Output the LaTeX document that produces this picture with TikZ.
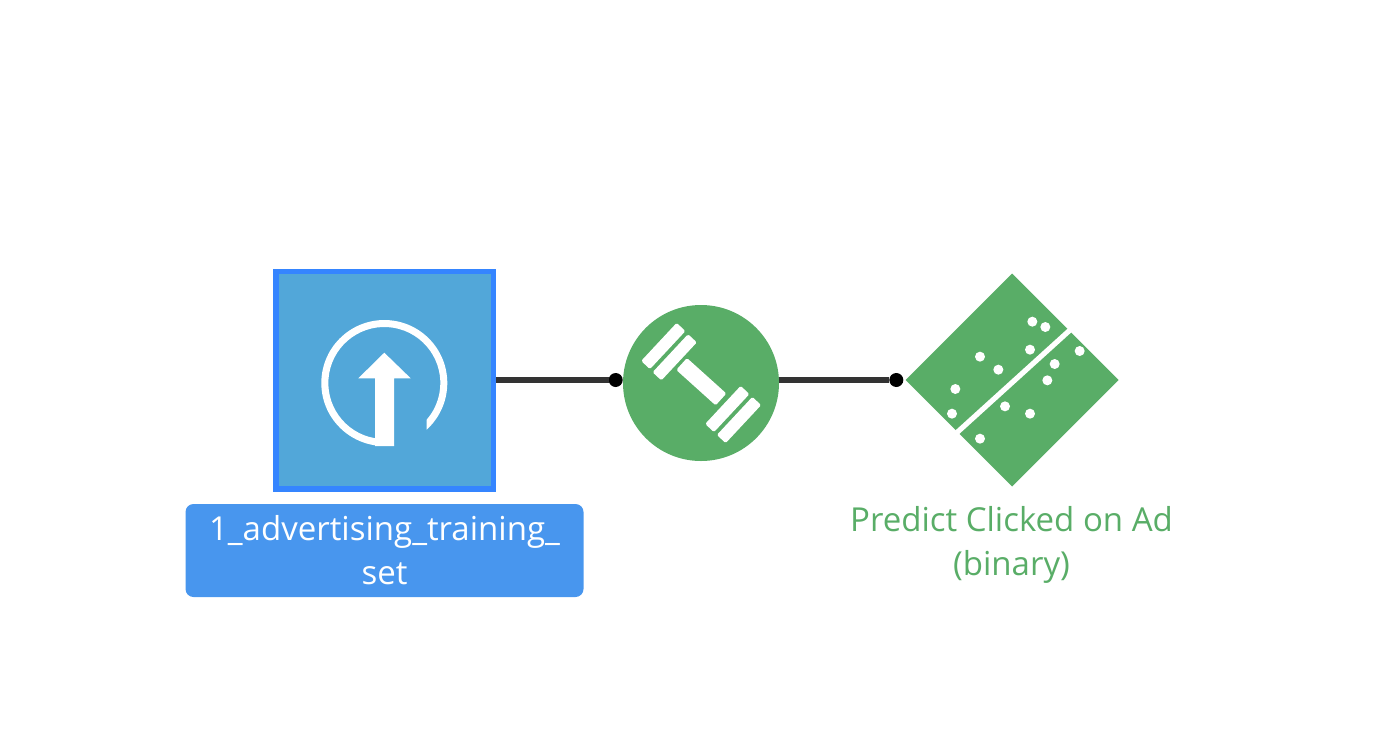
\documentclass[tikz,border=0pt]{standalone}
\usepackage{fontspec}
\setmainfont{Open Sans}
\usetikzlibrary{shapes.geometric}
\definecolor{srcfill}{HTML}{52A7D9}
\definecolor{srcedge}{HTML}{3585FF}
\definecolor{labelblue}{HTML}{4896EE}
\definecolor{modelgreen}{HTML}{59AD67}
\definecolor{linkgrey}{HTML}{333333}
\tikzset{
  link/.style={draw=linkgrey,line width=5.4pt},
  portdot/.style={circle,fill=black,inner sep=0pt,minimum size=14pt,outer sep=0pt},
  srcbox/.style={rectangle,draw=srcedge,fill=srcfill,line width=5.5pt,inner sep=0pt,minimum size=217.5pt},
  trainnode/.style={circle,fill=modelgreen,inner sep=0pt,outer sep=0pt,minimum size=156pt},
  modelnode/.style={diamond,fill=modelgreen,inner sep=0pt,outer sep=0pt,minimum width=213pt,minimum height=213pt,aspect=1},
  labeltext/.style={font=\fontsize{33}{44}\selectfont,align=center,inner sep=0pt},
  bar/.style={fill=white,rounded corners=1.5pt},
  speck/.style={fill=white}
}
\begin{document}
\begin{tikzpicture}[x=1pt,y=1pt,yscale=-1]
\useasboundingbox (0,0) rectangle (1400,732);
% nodes
\node[srcbox] (src) at (384.5,380) {};
\node[trainnode] (train) at (701,383) {};
\node[modelnode] (model) at (1012,380) {};
\node[portdot] (d1) at (615.7,380) {};
\node[portdot] (d2) at (896.3,380) {};
% connectors
\draw[link] (src.east) -- (d1);
\draw[link] (d2 -| train.east) -- (d2);
% upload icon
\fill[white] (384.3,383) ++(47.7:63) arc[start angle=47.7,end angle=-278.9,radius=63]
  -- (375,438.2) arc[start angle=-260.4,end angle=40.8,radius=56] -- cycle;
\fill[white] (384.3,352.7) -- (410.7,378.3) -- (394,378.3) -- (394,446) -- (375,446)
  -- (375,378.3) -- (358.3,378.3) -- cycle;
% dumbbell icon
\foreach \cx/\cy in {663.3/346, 674.7/357.3, 727.3/409, 739/420}{
  \fill[bar,shift={(\cx,\cy)},rotate=-47] (-26,-6) rectangle (26,6);
}
\fill[bar,shift={(701.3,381.7)},rotate=42] (-26.5,-8) rectangle (26.5,8);
% decision-boundary icon
\draw[white,line width=5.2pt] (957,432.5) -- (1069.8,330.2);
\foreach \zx/\zy in {442/170,481/186,435/254,285/275,340/314,211/372,201/446,360/424,435/446,285/521,584/258,509/297,487/346}{
  \fill[speck] ({885+\zx/3},{265+\zy/3}) circle[radius=5];
}
% label
\fill[labelblue,rounded corners=8pt] (185.5,504) rectangle (583.5,597);
\node[labeltext,text=white] (srclabel) at (384.5,550) {1\_advertising\_training\_\\set};
\node[labeltext,text=modelgreen] (modellabel) at (1011.5,544.5) {Predict Clicked on Ad\\(binary)};
\end{tikzpicture}
\end{document}
